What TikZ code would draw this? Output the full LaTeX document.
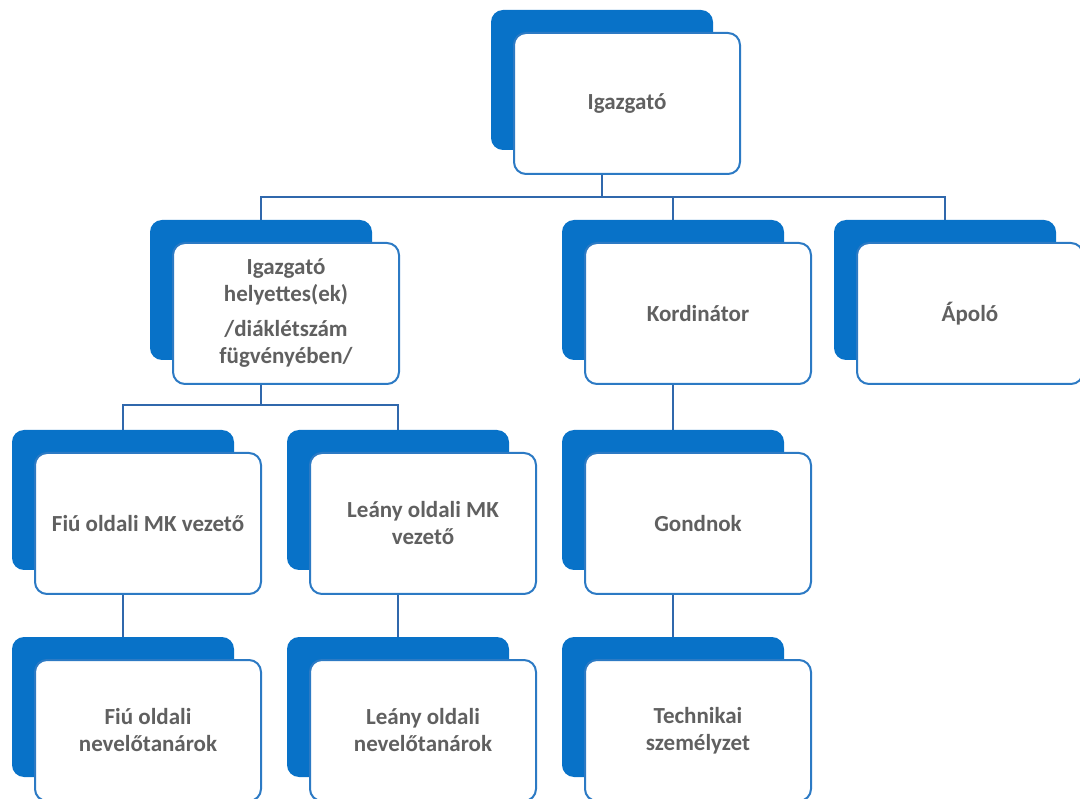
\documentclass[tikz,border=0pt]{standalone}
\usepackage{fontspec}
\setmainfont{Carlito}
\definecolor{tabblue}{RGB}{8,114,200}
\definecolor{edgeblue}{RGB}{44,122,196}
\definecolor{linkblue}{RGB}{48,104,172}
\definecolor{txtgray}{RGB}{96,96,96}
\begin{document}
\begin{tikzpicture}[x=1pt,y=-1pt]
	\def \rowoneb{80}
	\def \rowonew{103.5}
	\def \rowtwob{290}
	\def \rowtwow{313.5}
	\def \rowthreeb{500}
	\def \rowthreew{523.5}
	\def \rowfourb{707}
	\def \rowfourw{730.5}
	\tikzstyle{b-node}=[rectangle,rounded corners=12pt,fill=tabblue,inner sep=0pt,minimum width=222pt,minimum height=140pt]
	\tikzstyle{w-node}=[rectangle,rounded corners=12pt,draw=edgeblue,fill=white,line width=2pt,inner sep=0pt,minimum width=226pt,minimum height=141pt,align=center,text=txtgray,font=\fontsize{23}{27}\selectfont\bfseries]
	\tikzstyle{link}=[draw=linkblue,line width=2pt]
	\useasboundingbox (0,0) rectangle (1080,799);
	
	% director
	\node[b-node] 	(igb)	at (602,\rowoneb)	{};
	\node[w-node] 	(ig)	at (627,\rowonew)	{Igazgató};
	
	% second level
	\node[b-node] 	(hb)	at (261,\rowtwob)	{};
	\node[w-node] 	(h)	at (286,\rowtwow)	{Igazgató\\helyettes(ek)\\[8pt]/diáklétszám\\fügvényében/};
	\node[b-node] 	(kb)	at (673,\rowtwob)	{};
	\node[w-node] 	(k)	at (698,\rowtwow)	{Kordinátor};
	\node[b-node] 	(ab)	at (945,\rowtwob)	{};
	\node[w-node] 	(a)	at (970,\rowtwow)	{Ápoló};
	
	% third level
	\node[b-node] 	(fb)	at (123,\rowthreeb)	{};
	\node[w-node] 	(f)	at (148,\rowthreew)	{Fiú oldali MK vezető};
	\node[b-node] 	(lb)	at (398,\rowthreeb)	{};
	\node[w-node] 	(l)	at (423,\rowthreew)	{Leány oldali MK\\vezető};
	\node[b-node] 	(gb)	at (673,\rowthreeb)	{};
	\node[w-node] 	(g)	at (698,\rowthreew)	{Gondnok};
	
	% fourth level
	\node[b-node] 	(fnb)	at (123,\rowfourb)	{};
	\node[w-node] 	(fn)	at (148,\rowfourw)	{Fiú oldali\\nevelőtanárok};
	\node[b-node] 	(lnb)	at (398,\rowfourb)	{};
	\node[w-node] 	(ln)	at (423,\rowfourw)	{Leány oldali\\nevelőtanárok};
	\node[b-node] 	(tb)	at (673,\rowfourb)	{};
	\node[w-node] 	(t)	at (698,\rowfourw)	{Technikai\\személyzet};
	
	% bus lines
	\coordinate (busone) at (0,197);
	\coordinate (bustwo) at (0,405);
	
	\path[link]
		(igb |- ig.south)	--	(igb |- busone)	-|	(hb.north)
		(igb |- busone)	-|	(kb.north)
		(igb |- busone)	-|	(ab.north)
		(hb |- h.south)	--	(hb |- bustwo)	-|	(fb.north)
		(hb |- bustwo)	-|	(lb.north)
		(kb |- k.south)	--	(gb.north)
		(fb |- f.south)	--	(fnb.north)
		(lb |- l.south)	--	(lnb.north)
		(gb |- g.south)	--	(tb.north);
		
\end{tikzpicture}
\end{document}
